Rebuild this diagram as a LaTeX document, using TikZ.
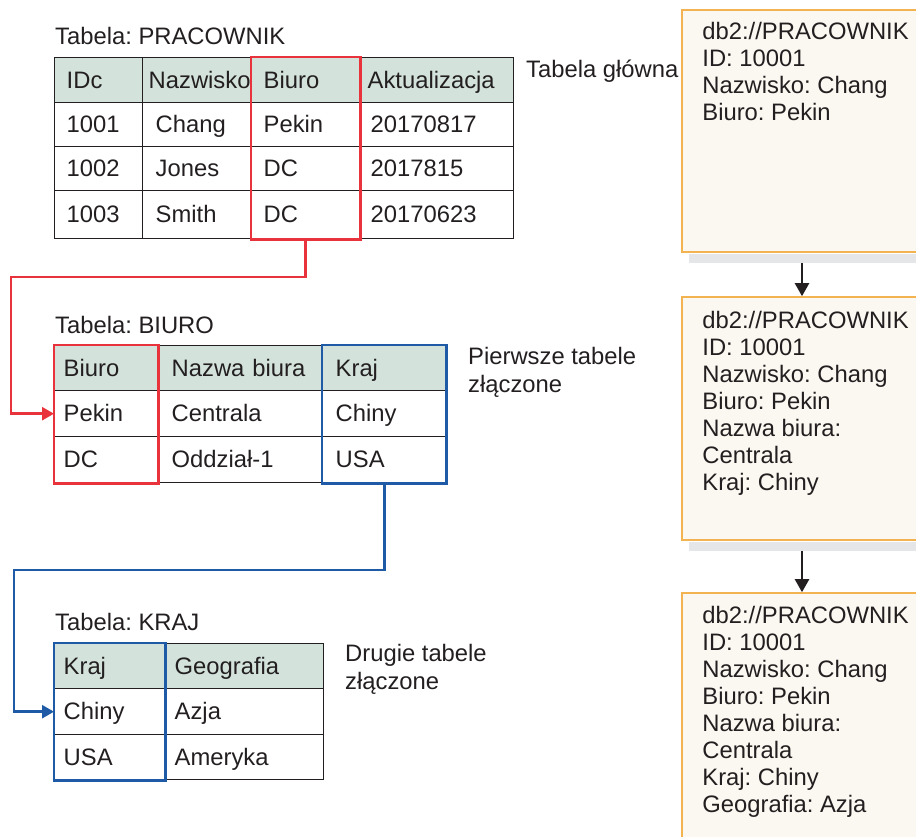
\documentclass[tikz,border=0pt]{standalone}
\usepackage{fontspec}
\setmainfont{Liberation Sans}
\usetikzlibrary{positioning, arrows.meta}

\definecolor{headgreen}{RGB}{211,227,220}
\definecolor{keyred}{RGB}{232,50,60}
\definecolor{keyblue}{RGB}{31,90,166}
\definecolor{recorange}{RGB}{242,179,80}
\definecolor{recfill}{RGB}{251,248,242}
\definecolor{shadowgray}{RGB}{229,230,231}
\definecolor{inkgray}{RGB}{35,31,32}
\newcommand\diafont{\frenchspacing\fontsize{23.8}{27}\selectfont}

\begin{document}
\begin{tikzpicture}[
    x=1pt, y=-1pt,
    every node/.style={text=inkgray, font=\diafont},
    cell/.style={draw=inkgray, line width=1.4pt, anchor=north west, align=left, inner ysep=0pt, minimum height=44pt, text height=17pt, text depth=1pt},
    head/.style={fill=headgreen, minimum height=45pt},
    caption/.style={inner sep=0pt, anchor=base west},
    note/.style={inner sep=0pt, anchor=north west, align=left, font=\frenchspacing\fontsize{23.8}{28}\selectfont},
    keybox/.style={line width=2.8pt},
    keylink/.style={line width=2.6pt, -{Triangle[length=12pt, width=13pt]}},
    recbox/.style={draw=recorange, fill=recfill, line width=1.6pt, minimum width=240pt, inner sep=0pt},
    rectext/.style={anchor=north west, align=left, inner sep=0pt},
    flow/.style={line width=2.4pt, draw=inkgray, -{Triangle[length=13pt, width=14pt]}}
]
    \useasboundingbox (0,0) rectangle (916,837);
    \clip (0,0) rectangle (916,837);

    % Table PRACOWNIK
    \node[caption] (prlabel) at ([shift={(1pt,12.5pt)}]54pt,-57pt) {Tabela: PRACOWNIK};
    \node[cell, head, text width=64pt, inner xsep=12pt] (pr11) at (54,57) {IDc};
    \node[cell, head, text width=97pt, inner xsep=6pt] (pr12) at (142,57) {Nazwisko};
    \node[cell, head, text width=84pt, inner xsep=12pt] (pr13) at (251,57) {Biuro};
    \node[cell, head, text width=138pt, inner xsep=8pt] (pr14) at (359,57) {Aktualizacja};
    \node[cell, text width=64pt, inner xsep=12pt] (pr21) at (54,102) {1001};
    \node[cell, text width=83pt, inner xsep=13pt] (pr22) at (142,102) {Chang};
    \node[cell, text width=84pt, inner xsep=12pt] (pr23) at (251,102) {Pekin};
    \node[cell, text width=132pt, inner xsep=11pt] (pr24) at (359,102) {20170817};
    \node[cell, text width=64pt, inner xsep=12pt] (pr31) at (54,146) {1002};
    \node[cell, text width=83pt, inner xsep=13pt] (pr32) at (142,146) {Jones};
    \node[cell, text width=84pt, inner xsep=12pt] (pr33) at (251,146) {DC};
    \node[cell, text width=132pt, inner xsep=11pt] (pr34) at (359,146) {2017815};
    \node[cell, text width=64pt, inner xsep=12pt, minimum height=48pt] (pr41) at (54,190) {1003};
    \node[cell, text width=83pt, inner xsep=13pt, minimum height=48pt] (pr42) at (142,190) {Smith};
    \node[cell, text width=84pt, inner xsep=12pt, minimum height=48pt] (pr43) at (251,190) {DC};
    \node[cell, text width=132pt, inner xsep=11pt, minimum height=48pt] (pr44) at (359,190) {20170623};
    \node[caption] (mainnote) at (526,78) {Tabela główna};

    % Table BIURO
    \node[caption] (bilabel) at ([shift={(1pt,11.5pt)}]54pt,-345pt) {Tabela: BIURO};
    \node[cell, head, text width=85pt, inner xsep=9pt] (bi11) at (54,345) {Biuro};
    \node[cell, head, text width=137pt, inner xsep=14pt] (bi12) at (157,345) {Nazwa biura};
    \node[cell, head, text width=97pt, inner xsep=13pt] (bi13) at (322,345) {Kraj};
    \node[cell, text width=85pt, inner xsep=9pt, minimum height=46pt] (bi21) at (54,390) {Pekin};
    \node[cell, text width=137pt, inner xsep=14pt, minimum height=46pt] (bi22) at (157,390) {Centrala};
    \node[cell, text width=97pt, inner xsep=13pt, minimum height=46pt] (bi23) at (322,390) {Chiny};
    \node[cell, text width=85pt, inner xsep=9pt, minimum height=46pt] (bi31) at (54,436) {DC};
    \node[cell, text width=137pt, inner xsep=14pt, minimum height=46pt] (bi32) at (157,436) {Oddział-1};
    \node[cell, text width=97pt, inner xsep=13pt, minimum height=46pt] (bi33) at (322,436) {USA};
    \node[note] (joinnote1) at (468,347) {Pierwsze tabele\\złączone};

    % Table KRAJ
    \node[caption] (krlabel) at ([shift={(1pt,12.5pt)}]54pt,-643pt) {Tabela: KRAJ};
    \node[cell, head, text width=92pt, inner xsep=9pt] (kr11) at (54,643) {Kraj};
    \node[cell, head, text width=139pt, inner xsep=10pt] (kr12) at (164,643) {Geografia};
    \node[cell, text width=92pt, inner xsep=9pt, minimum height=46pt] (kr21) at (54,688) {Chiny};
    \node[cell, text width=139pt, inner xsep=10pt, minimum height=46pt] (kr22) at (164,688) {Azja};
    \node[cell, text width=92pt, inner xsep=9pt, minimum height=45pt] (kr31) at (54,734) {USA};
    \node[cell, text width=139pt, inner xsep=10pt, minimum height=45pt] (kr32) at (164,734) {Ameryka};
    \node[note] (joinnote2) at (345,644) {Drugie tabele\\złączone};

    % Join columns
    \draw[keybox, keyred] (pr13.north west) rectangle (pr43.south east);
    \draw[keybox, keyred] (bi11.north west) rectangle (bi31.south east);
    \draw[keybox, keyblue] (bi13.north west) rectangle (bi33.south east);
    \draw[keybox, keyblue] (kr11.north west) rectangle (kr31.south east);

    % Join links
    \coordinate (redbend) at (11,277);
    \draw[keylink, keyred] (pr43.south) |- (redbend) |- (bi21.west);
    \coordinate (bluebend) at (14,570);
    \draw[keylink, keyblue] (bi33.south) |- (bluebend) |- (kr21.west);

    % Result records
    \node[recbox, minimum height=242pt] (rec1) at (802,131) {};
    \node[recbox, minimum height=243pt] (rec2) at (802,418.5) {};
    \node[recbox, minimum height=250pt] (rec3) at (802,718) {};
    \fill[shadowgray] ([shift={(8pt,-0.8pt)}]rec1.south west) rectangle ([yshift=-10pt]rec1.south east);
    \fill[shadowgray] ([shift={(8pt,-0.8pt)}]rec2.south west) rectangle ([yshift=-10pt]rec2.south east);
    \draw[flow] ([yshift=-10pt]rec1.south) -- (rec2.north);
    \draw[flow] ([yshift=-10pt]rec2.south) -- (rec3.north);

    \node[rectext] (txt1) at ([shift={(21pt,-13pt)}]rec1.north west)
        {db2://PRACOWNIK\\ID: 10001\\Nazwisko: Chang\\Biuro: Pekin};
    \node[rectext] (txt2) at ([shift={(21pt,-14.5pt)}]rec2.north west)
        {db2://PRACOWNIK\\ID: 10001\\Nazwisko: Chang\\Biuro: Pekin\\Nazwa biura:\\Centrala\\Kraj: Chiny};
    \node[rectext] (txt3) at ([shift={(21pt,-13.5pt)}]rec3.north west)
        {db2://PRACOWNIK\\ID: 10001\\Nazwisko: Chang\\Biuro: Pekin\\Nazwa biura:\\Centrala\\Kraj: Chiny\\Geografia: Azja};

\end{tikzpicture}
\end{document}
